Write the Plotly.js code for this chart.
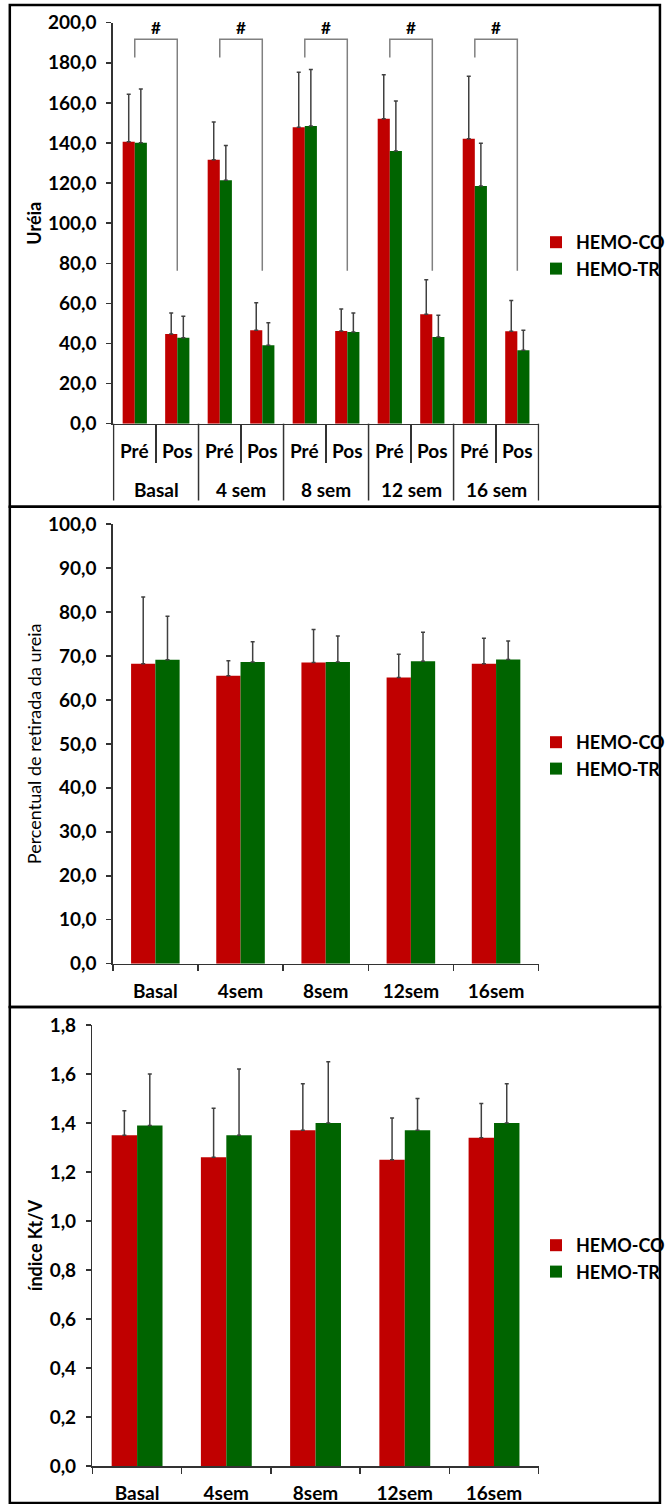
<!DOCTYPE html>
<html>
<head>
<meta charset="utf-8">
<script src="https://cdn.plot.ly/plotly-3.0.1.min.js"></script>
<style>
  html, body { margin: 0; padding: 0; background: #fff; }
  #chart { width: 670px; height: 1504px; }
</style>
</head>
<body>
<div id="chart"></div>
<script>
// ---- Uréia pré / pós sessão (mean and SD) ----
const weeks = ['Basal', '4 sem', '8 sem', '12 sem', '16 sem'];
const phases = ['Pré', 'Pos'];
// order: Basal Pré, Basal Pos, 4 sem Pré, 4 sem Pos, ...
const ureiaCO   = [140.6, 44.7, 131.7, 46.6, 147.8, 46.2, 152.1, 54.6, 142.1, 46.1];
const ureiaCOsd = [23.7, 10.5, 18.8, 13.7, 27.5, 11.0, 22.0, 17.2, 31.2, 15.3];
const ureiaTR   = [140.1, 42.9, 121.4, 39.1, 148.5, 45.7, 136.0, 43.2, 118.6, 36.6];
const ureiaTRsd = [26.8, 10.7, 17.3, 11.3, 28.1, 9.5, 25.0, 10.9, 21.3, 10.0];
// significance brackets (Pré vs Pos), in uréia units
const bracketPre = 182.7, bracketTop = 191.7, bracketPos = 76.3, hashLevel = 197.4;

// ---- Percentual de retirada da ureia ----
const sessions = ['Basal', '4sem', '8sem', '12sem', '16sem'];
const urrCO   = [68.2, 65.5, 68.5, 65.1, 68.2];
const urrCOsd = [15.2, 3.4, 7.5, 5.3, 5.8];
const urrTR   = [69.1, 68.6, 68.6, 68.8, 69.2];
const urrTRsd = [9.9, 4.6, 5.9, 6.6, 4.2];

// ---- Índice Kt/V ----
const ktvCO   = [1.35, 1.26, 1.37, 1.25, 1.34];
const ktvCOsd = [0.10, 0.20, 0.19, 0.17, 0.14];
const ktvTR   = [1.39, 1.35, 1.40, 1.37, 1.40];
const ktvTRsd = [0.21, 0.27, 0.25, 0.13, 0.16];

const groups = ['HEMO-CO', 'HEMO-TR'];
const colors = ['#c00000', '#006400'];

// pixel helpers for a 670 x 1504 figure with zero margins
const W = 670, H = 1504;
const fx = px => px / W;
const fy = px => 1 - px / H;

const FONT = 'Lato, "Open Sans", sans-serif';
const tickFont = { family: FONT, size: 19, color: '#000', weight: 'bold' };
const legendFont = { family: FONT, size: 18, color: '#000', weight: 'bold' };
const axisColor = '#333';

// multicategory coordinates for the uréia chart
const outer = weeks.flatMap(w => phases.map(() => w));
const inner = weeks.flatMap(() => phases);
const xUreia = [outer, inner];

function bars(name, color, x, y, sd, xa, ya, legend) {
  return {
    type: 'bar', name: name, x: x, y: y,
    xaxis: xa, yaxis: ya, legend: legend, legendgroup: name + legend,
    marker: { color: color, line: { width: 0 } },
    error_y: {
      type: 'data', symmetric: false, array: sd, arrayminus: sd.map(() => 0),
      color: '#404040', thickness: 1.5, width: 2
    },
    hoverinfo: 'skip'
  };
}

const traces = [
  bars(groups[0], colors[0], xUreia, ureiaCO, ureiaCOsd, 'x', 'y', 'legend'),
  bars(groups[1], colors[1], xUreia, ureiaTR, ureiaTRsd, 'x', 'y', 'legend'),
  bars(groups[0], colors[0], sessions, urrCO, urrCOsd, 'x2', 'y2', 'legend2'),
  bars(groups[1], colors[1], sessions, urrTR, urrTRsd, 'x2', 'y2', 'legend2'),
  bars(groups[0], colors[0], sessions, ktvCO, ktvCOsd, 'x3', 'y3', 'legend3'),
  bars(groups[1], colors[1], sessions, ktvTR, ktvTRsd, 'x3', 'y3', 'legend3')
];

// Pré -> Pos brackets
weeks.forEach(w => {
  traces.push({
    type: 'scatter', mode: 'lines',
    x: [[w, w, w, w], ['Pré', 'Pré', 'Pos', 'Pos']],
    y: [bracketPre, bracketTop, bracketTop, bracketPos],
    xaxis: 'x', yaxis: 'y',
    line: { color: '#808080', width: 1.5 },
    showlegend: false, hoverinfo: 'skip'
  });
});

const hashNotes = weeks.map((w, i) => ({
  xref: 'x', yref: 'y', x: 2 * i + 0.5, y: hashLevel,
  text: '#', showarrow: false,
  font: { family: FONT, size: 17, color: '#000', weight: 'bold' }
}));

// two-row category labels under the uréia chart (Pré/Pos, then the week)
const phaseLabels = inner.map((p, k) => ({
  xref: 'x', yref: 'paper', x: k, y: fy(451), yanchor: 'middle',
  text: p, showarrow: false, font: tickFont
}));
const weekLabels = weeks.map((w, i) => ({
  xref: 'x', yref: 'paper', x: 2 * i + 0.5, y: fy(489), yanchor: 'middle',
  text: w, showarrow: false, font: tickFont
}));
// long separators between the week groups
const weekDividers = weeks.concat(['']).map((w, i) => ({
  type: 'line', xref: 'x', yref: 'paper',
  x0: 2 * i - 0.5, x1: 2 * i - 0.5, y0: fy(423.7), y1: fy(500.5),
  line: { color: axisColor, width: 1.5 }
}));

function yAxis(domain, range, dtick, fmt, title, titleWeight, standoff, anchor) {
  return {
    domain: domain, range: range, dtick: dtick, tickformat: fmt, anchor: anchor,
    showline: true, linecolor: axisColor, linewidth: 1.5,
    ticks: 'outside', ticklen: 5, tickwidth: 1.5, tickcolor: axisColor,
    ticklabelstandoff: 6, tickfont: tickFont,
    showgrid: false, zeroline: false, fixedrange: true,
    title: { text: title, standoff: standoff,
             font: { family: FONT, size: 18, color: '#000', weight: titleWeight } }
  };
}

function xAxis(domain, anchor, extra) {
  return Object.assign({
    domain: domain, anchor: anchor,
    showline: true, linecolor: axisColor, linewidth: 1.5,
    ticks: 'outside', tickson: 'boundaries', ticklen: 6, tickwidth: 1.5, tickcolor: axisColor,
    ticklabelstandoff: 10, tickfont: tickFont,
    showgrid: false, zeroline: false, fixedrange: true
  }, extra || {});
}

function legendAt(yCenter) {
  return {
    x: fx(547), xanchor: 'left', y: fy(yCenter), yanchor: 'middle',
    font: legendFont, bgcolor: 'rgba(0,0,0,0)', tracegroupgap: 8,
    entrywidth: 78, entrywidthmode: 'pixels',
    traceorder: 'normal'
  };
}

function frame(top, bottom) {
  return {
    type: 'rect', xref: 'paper', yref: 'paper',
    x0: fx(10), x1: fx(673), y0: fy(bottom), y1: fy(top),
    line: { color: '#000', width: 2.5 }, fillcolor: 'rgba(0,0,0,0)'
  };
}

const layout = {
  width: W, height: H,
  margin: { l: 0, r: 0, t: 0, b: 0 },
  paper_bgcolor: '#fff', plot_bgcolor: 'rgba(0,0,0,0)',
  separators: ',.',
  barmode: 'group', bargap: 0.43, bargroupgap: 0,
  font: { family: FONT, size: 18, color: '#000' },
  hovermode: false,

  xaxis: xAxis([fx(115), fx(550)], 'y', {
    type: 'multicategory', ticklen: 38, showticklabels: false, showdividers: false
  }),
  yaxis: yAxis([fy(423.7), fy(22.7)], [0, 200], 20, '.1f', 'Uréia', 'bold', 1, 'x'),

  xaxis2: xAxis([fx(115), fx(549.3)], 'y2'),
  yaxis2: yAxis([fy(963.7), fy(524)], [0, 100], 10, '.1f',
                'Percentual de retirada da ureia', 'normal', 1, 'x2'),

  xaxis3: xAxis([fx(94.3), fx(549.3)], 'y3'),
  yaxis3: yAxis([fy(1466), fy(1025)], [0, 1.8], 0.2, '.1f', 'índice Kt/V', 'bold', 2, 'x3'),

  legend: legendAt(255.5),
  legend2: legendAt(755.5),
  legend3: legendAt(1258.5),

  annotations: hashNotes.concat(phaseLabels, weekLabels),
  shapes: weekDividers.concat([frame(5, 506.7), frame(506.7, 1007), frame(1007, 1503)])
};

Plotly.newPlot('chart', traces, layout, { staticPlot: true, displayModeBar: false });
</script>
</body>
</html>
